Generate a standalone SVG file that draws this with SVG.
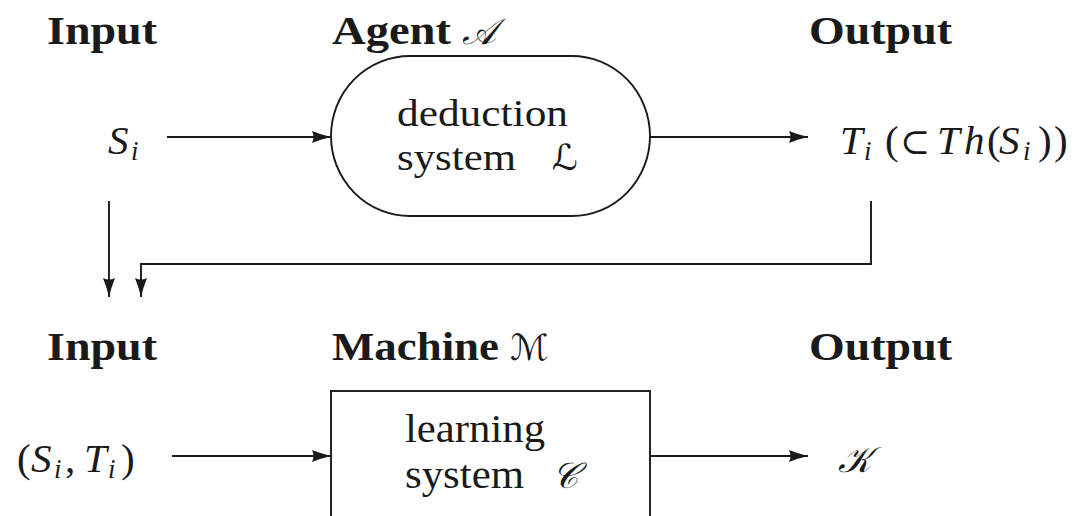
<svg xmlns="http://www.w3.org/2000/svg" width="1082" height="516" viewBox="0 0 1082 516">
<style>
.lbl{font-family:"Liberation Serif",serif;font-weight:bold;font-size:39px;fill:#1a1a1a}
.rm{font-family:"Liberation Serif",serif;font-size:40px;fill:#1a1a1a}
.rm2{font-family:"Liberation Serif",serif;font-size:38px;fill:#1a1a1a}
.mi{font-family:"Liberation Serif",serif;font-style:italic;font-size:41px;fill:#1a1a1a}
.sub{font-size:27px;font-style:italic}
.up{font-style:normal}
.cal{font-family:"DejaVu Serif","DejaVu Sans",serif;font-style:italic;font-weight:normal;font-size:36px;fill:#1a1a1a}
.ln{fill:none;stroke:#1a1a1a;stroke-width:1.9}
</style>
<defs>
<marker id="ah" viewBox="0 0 19 13" refX="19" refY="6.5" markerWidth="19" markerHeight="13" orient="auto" markerUnits="userSpaceOnUse">
<path d="M0,0.5 Q9.5,4.3 19,6.5 Q9.5,8.7 0,12.5 Q3,6.5 0,0.5Z" fill="#1a1a1a"/>
</marker>
</defs>
<rect width="1082" height="516" fill="#ffffff"/>

<g id="labels">
<text class="lbl" x="47" y="44" textLength="110" lengthAdjust="spacingAndGlyphs">Input</text>
<text class="lbl" x="332" y="44"><tspan textLength="119" lengthAdjust="spacingAndGlyphs">Agent</tspan><tspan class="cal" x="462">𝒜</tspan></text>
<text class="lbl" x="809" y="44" textLength="143" lengthAdjust="spacingAndGlyphs">Output</text>
<text class="lbl" x="47" y="360" textLength="110" lengthAdjust="spacingAndGlyphs">Input</text>
<text class="lbl" x="332" y="360"><tspan textLength="167" lengthAdjust="spacingAndGlyphs">Machine</tspan><tspan class="cal" x="510">ℳ</tspan></text>
<text class="lbl" x="809" y="360" textLength="143" lengthAdjust="spacingAndGlyphs">Output</text>
</g>

<g id="input-top">
<text class="mi" x="108" y="154">S<tspan class="sub" x="131" dy="6">i</tspan></text>
</g>

<g id="agent">
<path class="ln" d="M410,56 H572 A78,80 0 0 1 572,216 H410 A79,80 0 0 1 410,56 Z"/>
<text class="rm2" x="397" y="126" textLength="171" lengthAdjust="spacingAndGlyphs">deduction</text>
<text class="rm2" x="397" y="170"><tspan textLength="119" lengthAdjust="spacingAndGlyphs">system</tspan><tspan class="cal" x="552">ℒ</tspan></text>
</g>

<g id="output-top">
<text class="mi" x="840" y="154">T<tspan class="sub" x="864" dy="6">i</tspan><tspan class="up" x="885" dy="-6">(</tspan><tspan class="up" font-family="DejaVu Serif, serif" font-size="36" x="900">⊂</tspan><tspan x="937">T</tspan><tspan x="964">h</tspan><tspan class="up" x="987">(</tspan><tspan x="999">S</tspan><tspan class="sub" x="1023" dy="6">i</tspan><tspan class="up" x="1038" dy="-6">)</tspan><tspan class="up" x="1054">)</tspan></text>
</g>

<g id="input-bottom">
<text class="mi" x="17" y="472"><tspan class="up">(</tspan><tspan x="31">S</tspan><tspan class="sub" x="54" dy="6">i</tspan><tspan class="up" x="65" dy="-6">,</tspan><tspan x="84">T</tspan><tspan class="sub" x="108" dy="6">i</tspan><tspan class="up" x="121" dy="-6">)</tspan></text>
</g>

<g id="machine">
<rect class="ln" x="331" y="391" width="319" height="150"/>
<text class="rm" x="405" y="442" textLength="140" lengthAdjust="spacingAndGlyphs">learning</text>
<text class="rm" x="405" y="488"><tspan textLength="119" lengthAdjust="spacingAndGlyphs">system</tspan><tspan class="cal" x="552">𝒞</tspan></text>
</g>

<g id="output-bottom">
<text class="cal" x="838" y="472">𝒦</text>
</g>

<g id="connectors">
<line class="ln" x1="167" y1="137" x2="331" y2="137" marker-end="url(#ah)"/>
<line class="ln" x1="650" y1="137" x2="808" y2="137" marker-end="url(#ah)"/>
<line class="ln" x1="109" y1="201" x2="109" y2="297" marker-end="url(#ah)"/>
<polyline class="ln" points="871,201 871,264 141,264 141,297" marker-end="url(#ah)"/>
<line class="ln" x1="172" y1="456" x2="331" y2="456" marker-end="url(#ah)"/>
<line class="ln" x1="650" y1="456" x2="808" y2="456" marker-end="url(#ah)"/>
</g>
</svg>
